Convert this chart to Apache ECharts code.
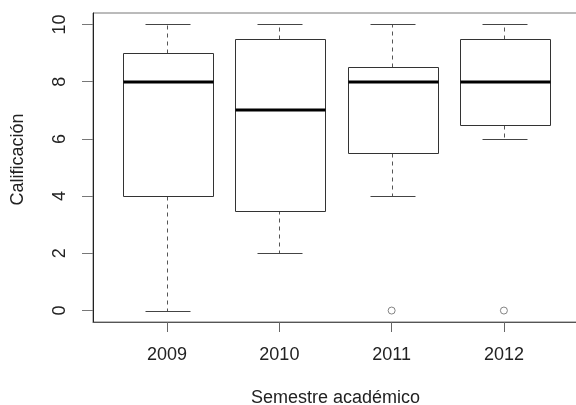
<!DOCTYPE html>
<html><head><meta charset="utf-8">
<script src="https://cdn.jsdelivr.net/npm/echarts@6/dist/echarts.min.js"></script>
<style>html,body{margin:0;padding:0;background:#fff}#c{width:576px;height:405px}</style>
</head><body><div id="c"></div>
<script>
const categories = ['2009','2010','2011','2012'];
const mins    = [0, 2, 4, 6];
const q1s     = [4, 3.5, 5.5, 6.5];
const medians = [8, 7, 8, 8];
const q3s     = [9, 9.5, 8.5, 9.5];
const maxs    = [10, 10, 10, 10];
const outliers = [[3, 0], [4, 0]]; // [group index (1-based), value]
const yTicks = [0, 2, 4, 6, 8, 10];

const boxData = categories.map((c, i) => [i + 1, mins[i], q1s[i], medians[i], q3s[i], maxs[i]]);
const FONT = 'Liberation Sans';
const chart = echarts.init(document.getElementById('c'), null, {renderer: 'canvas'});

function renderBox(params, api) {
  const x = api.value(0);
  const vmin = api.value(1), vq1 = api.value(2), vmed = api.value(3), vq3 = api.value(4), vmax = api.value(5);
  const boxW = api.size([0.8, 0])[0];
  const capW = api.size([0.4, 0])[0];
  const pMin = api.coord([x, vmin]), pQ1 = api.coord([x, vq1]), pMed = api.coord([x, vmed]);
  const pQ3 = api.coord([x, vq3]), pMax = api.coord([x, vmax]);
  const cx = Math.round(pMed[0]) + 0.5;
  const sn = v => Math.round(v) + 0.5;
  const lineStyle = {stroke: '#444', lineWidth: 1, fill: null};
  const dashStyle = {stroke: '#555', lineWidth: 1, lineDash: [4, 4], fill: null};
  const children = [
    {type: 'line', shape: {x1: cx, y1: sn(pQ3[1]), x2: cx, y2: sn(pMax[1])}, style: dashStyle},
    {type: 'line', shape: {x1: cx, y1: sn(pQ1[1]), x2: cx, y2: sn(pMin[1])}, style: dashStyle},
    {type: 'line', shape: {x1: sn(cx - capW / 2), y1: sn(pMax[1]), x2: sn(cx + capW / 2), y2: sn(pMax[1])}, style: lineStyle},
    {type: 'line', shape: {x1: sn(cx - capW / 2), y1: sn(pMin[1]), x2: sn(cx + capW / 2), y2: sn(pMin[1])}, style: lineStyle},
    {type: 'rect', shape: {x: sn(cx - boxW / 2), y: sn(pQ3[1]), width: Math.round(boxW), height: Math.round(pQ1[1] - pQ3[1])}, style: {stroke: '#333', lineWidth: 1, fill: '#fff'}},
    {type: 'line', shape: {x1: sn(cx - boxW / 2), y1: Math.round(pMed[1]), x2: sn(cx - boxW / 2) + Math.round(boxW), y2: Math.round(pMed[1])}, style: {stroke: '#000', lineWidth: 3}}
  ];
  return {type: 'group', children};
}

chart.setOption({
  animation: false,
  backgroundColor: '#fff',
  grid: {left: 93, top: 13, right: -2, bottom: 83, show: true, borderColor: '#777', borderWidth: 1, backgroundColor: 'transparent', containLabel: false, outerBoundsMode: 'none'},
  xAxis: {
    type: 'value', min: 0.34, max: 4.66,
    name: 'Semestre académico', nameLocation: 'middle', nameGap: 67,
    nameTextStyle: {fontFamily: FONT, fontSize: 18, color: '#222'},
    axisLine: {show: true, onZero: false, lineStyle: {color: '#555', width: 1}},
    axisTick: {show: true, length: 10, customValues: [1, 2, 3, 4], lineStyle: {color: '#666'}},
    axisLabel: {customValues: [1, 2, 3, 4], formatter: v => categories[Math.round(v) - 1] || '', fontFamily: FONT, fontSize: 18, color: '#222', margin: 24},
    splitLine: {show: false}
  },
  yAxis: {
    type: 'value', min: -0.4, max: 10.4,
    name: 'Calificación', nameLocation: 'middle', nameGap: 66,
    nameTextStyle: {fontFamily: FONT, fontSize: 18, color: '#222', padding: [0, 0, 0, 16]},
    axisLine: {show: true, onZero: false, lineStyle: {color: '#222', width: 1}},
    axisTick: {show: true, length: 11, customValues: yTicks, lineStyle: {color: '#777'}},
    axisLabel: {customValues: yTicks, rotate: 90, fontFamily: FONT, fontSize: 18, color: '#222', margin: 24},
    splitLine: {show: false}
  },
  series: [
    {type: 'custom', renderItem: renderBox, data: boxData, encode: {x: 0, y: [1, 2, 3, 4, 5]}, z: 3},
    {type: 'scatter', data: outliers, symbol: 'circle', symbolSize: 7, itemStyle: {color: 'rgba(255,255,255,0)', borderColor: '#666', borderWidth: 1}, z: 4}
  ]
});
</script></body></html>
